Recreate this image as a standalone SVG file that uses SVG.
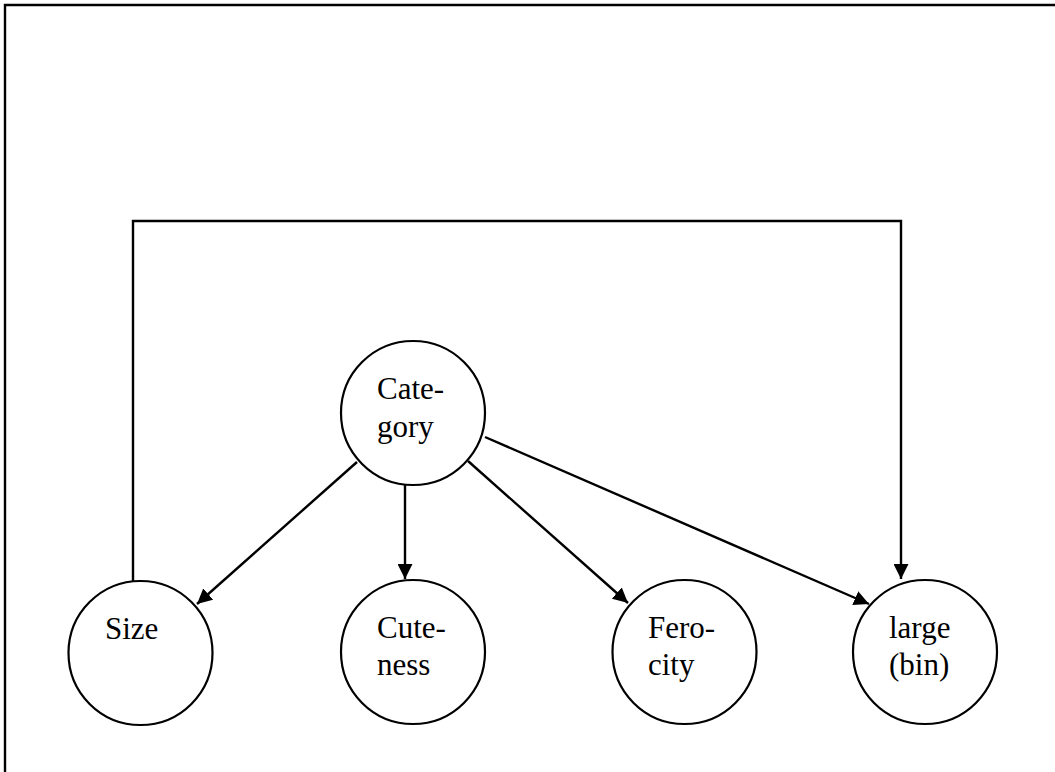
<svg xmlns="http://www.w3.org/2000/svg" width="1055" height="772" viewBox="0 0 1055 772">
  <defs>
    <marker id="arrow" viewBox="0 0 15 15" refX="15" refY="7.5" markerWidth="15" markerHeight="15" markerUnits="userSpaceOnUse" orient="auto">
      <path d="M0,0 L15,7.5 L0,15 Z" fill="#000"/>
    </marker>
    <style>
      .node circle { fill: #fff; stroke: #000; stroke-width: 2.2; }
      .node text { font-family: "Liberation Serif", "Times New Roman", serif; font-size: 31px; fill: #000; }
      .edge { fill: none; stroke: #000; stroke-width: 2.4; }
    </style>
  </defs>
  <rect width="1055" height="772" fill="#fff"/>
  <!-- frame -->
  <path d="M5,772 V5 H1055" fill="none" stroke="#000" stroke-width="2.4"/>

  <g id="connectors">
    <path class="edge" d="M133,581 V221 H901 V579" marker-end="url(#arrow)"/>
    <path class="edge" d="M357,462 L197,604" marker-end="url(#arrow)"/>
    <path class="edge" d="M405,485 V579" marker-end="url(#arrow)"/>
    <path class="edge" d="M468,461 L628,603" marker-end="url(#arrow)"/>
    <path class="edge" d="M485,437 L869,604" marker-end="url(#arrow)"/>
  </g>

  <g id="category" class="node">
    <circle cx="413" cy="413" r="72"/>
    <text x="377" y="399">Cate-</text>
    <text x="377" y="437">gory</text>
  </g>
  <g id="size" class="node">
    <circle cx="140.5" cy="653" r="72"/>
    <text x="105" y="639">Size</text>
  </g>
  <g id="cuteness" class="node">
    <circle cx="413" cy="652" r="72"/>
    <text x="377" y="638">Cute-</text>
    <text x="377" y="675">ness</text>
  </g>
  <g id="ferocity" class="node">
    <circle cx="684.5" cy="652" r="72"/>
    <text x="648" y="638">Fero-</text>
    <text x="648" y="675">city</text>
  </g>
  <g id="large" class="node">
    <circle cx="925" cy="652" r="72"/>
    <text x="889" y="638">large</text>
    <text x="889" y="675">(bin)</text>
  </g>
</svg>
